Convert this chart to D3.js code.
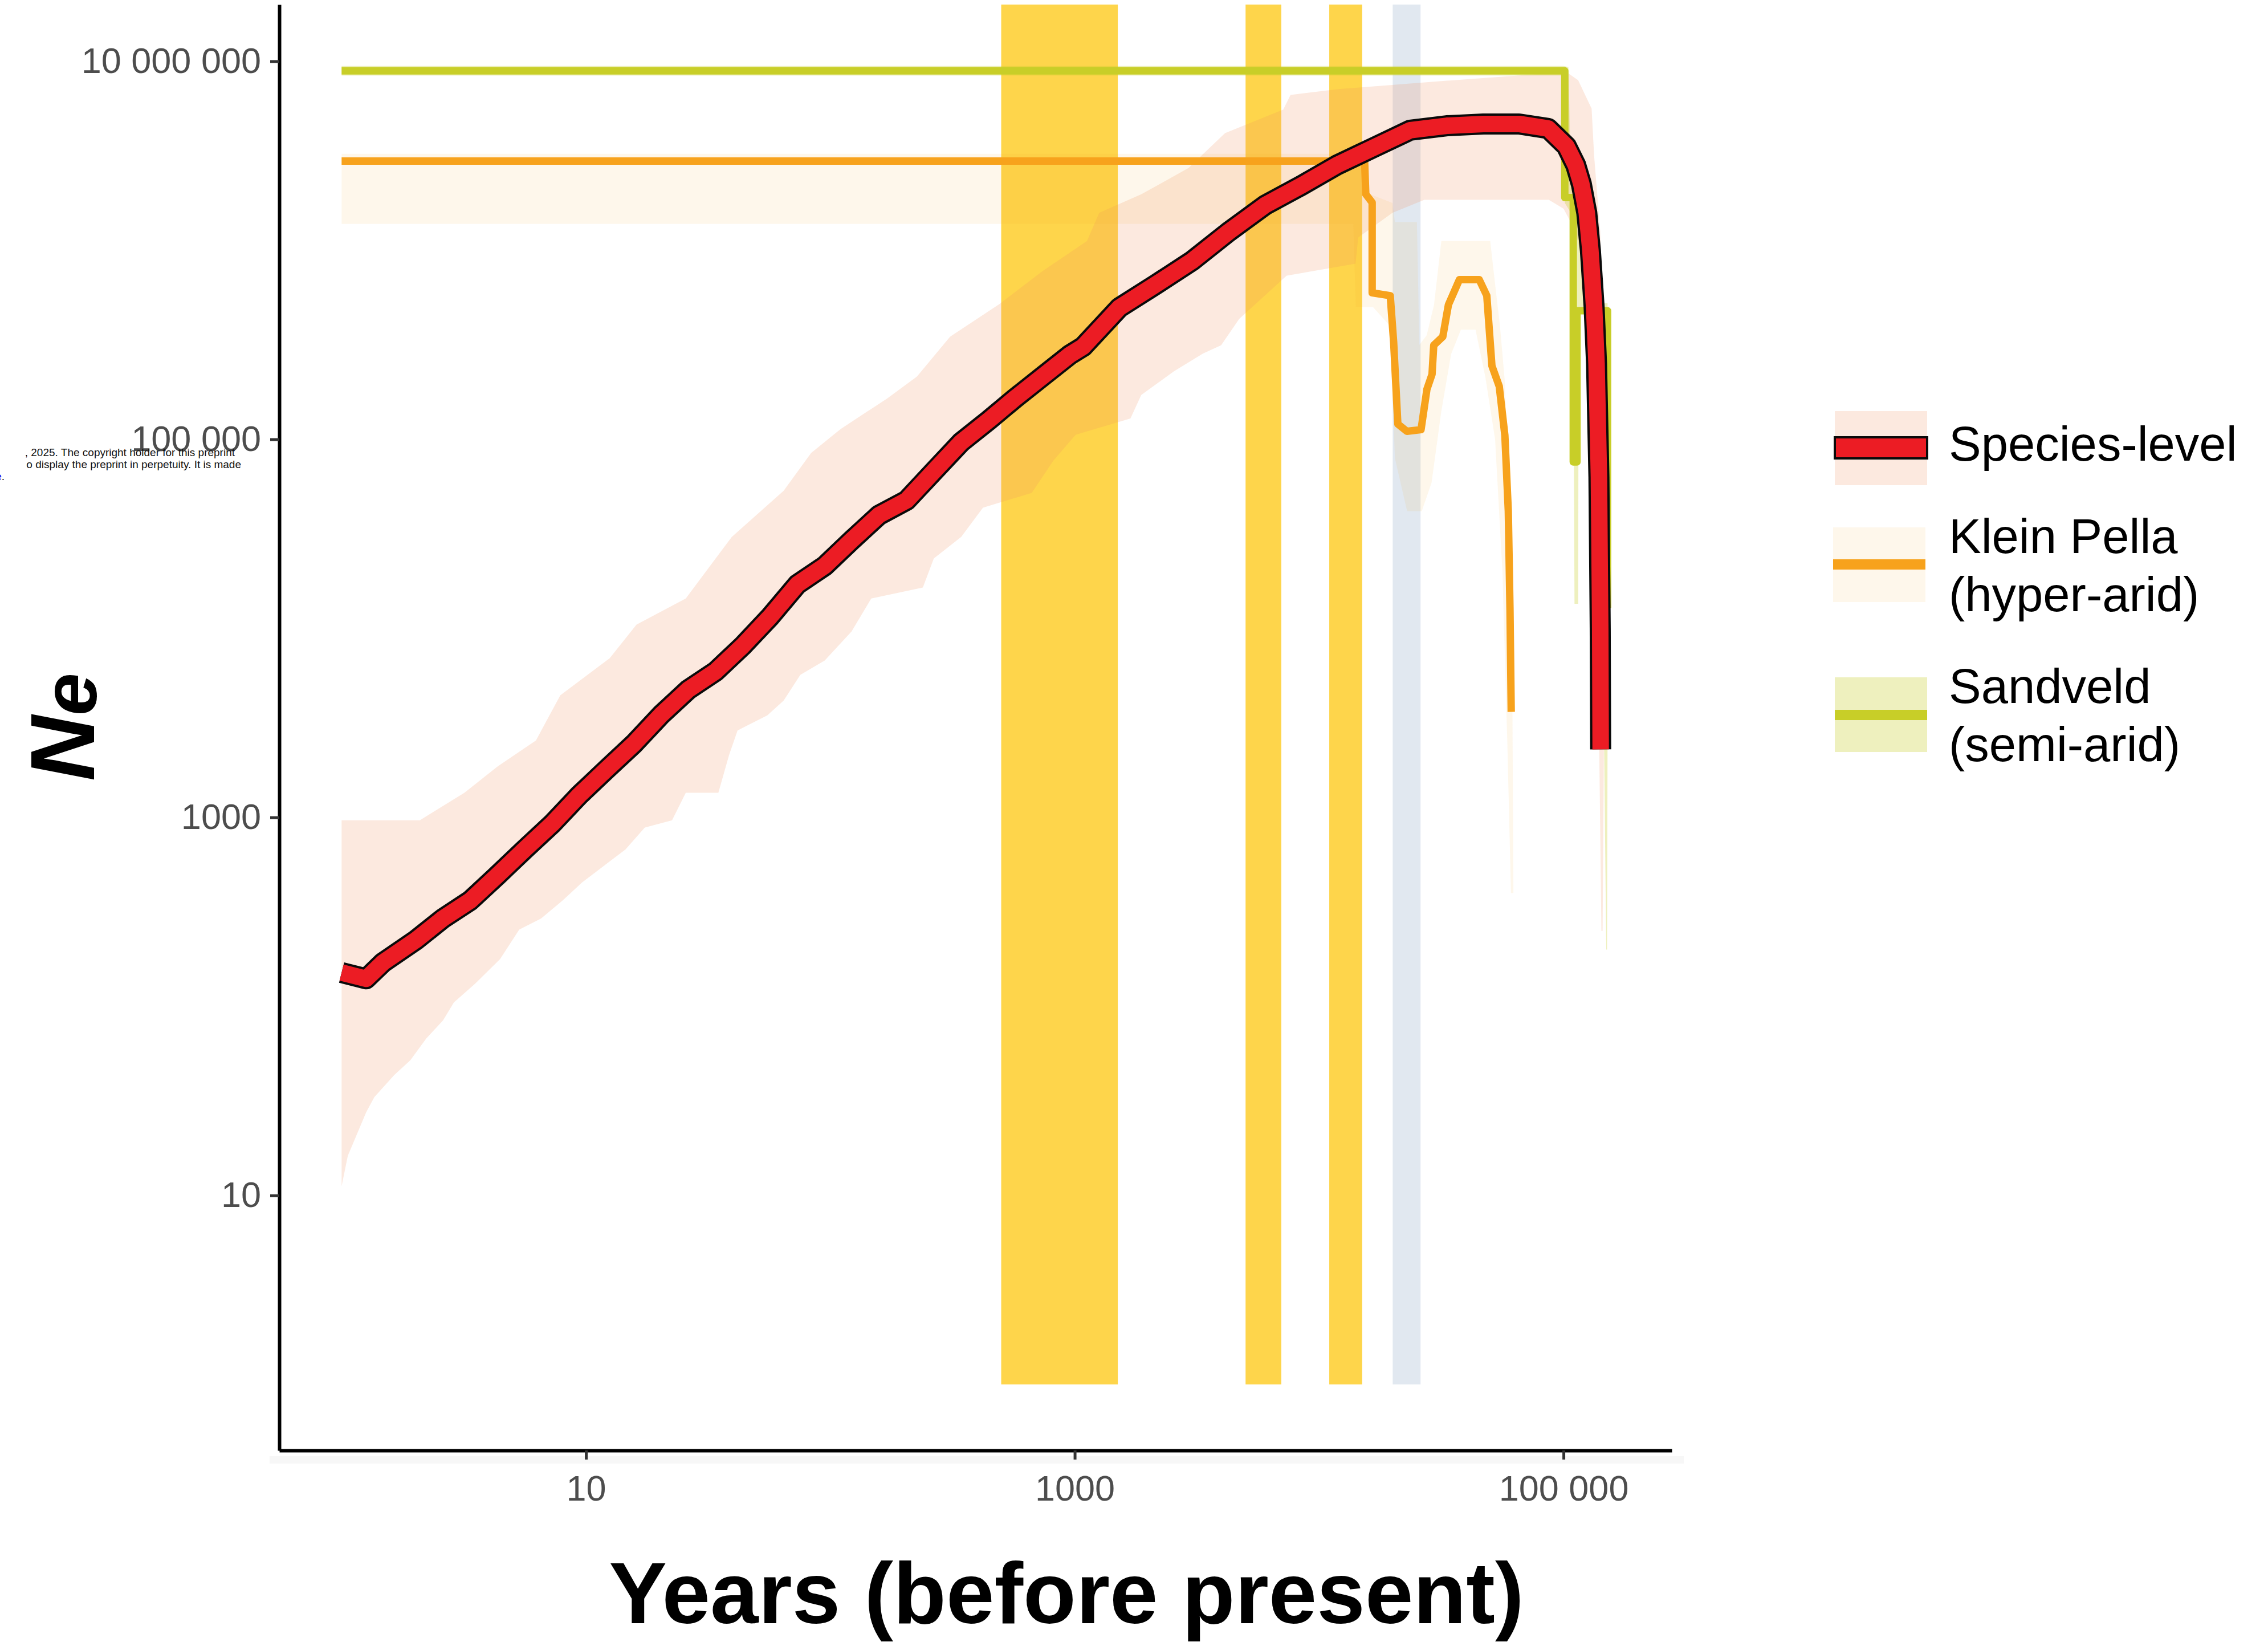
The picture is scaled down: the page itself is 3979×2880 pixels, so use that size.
<!DOCTYPE html>
<html>
<head>
<meta charset="utf-8">
<script src="https://cdn.jsdelivr.net/npm/d3@7"></script>
<style>
  body { margin: 0; background: #fff; }
  svg { display: block; font-family: "Liberation Sans", Arial, Helvetica, sans-serif; }
</style>
</head>
<body>
<svg id="chart" width="3979" height="2880"></svg>
<script>
// ---- data: [years before present, Ne] ----
const speciesLine = [
  [1.0, 151], [1.26, 140], [1.48, 171], [2.01, 224], [2.60, 292], [3.36, 363],
  [4.35, 495], [5.60, 676], [7.24, 920], [9.38, 1310], [12.1, 1790], [15.7, 2450],
  [20.3, 3490], [26.2, 4740], [33.9, 5920], [43.8, 8090], [56.6, 11500], [73.3, 17100],
  [94.8, 21400], [122, 29200], [158, 39700], [205, 47500], [265, 67800], [343, 96600],
  [444, 126000], [570, 165000], [738, 215000], [955, 280000], [1081, 309000],
  [1524, 498000], [2153, 661000], [3020, 879000], [4256, 1.25e6], [5998, 1.73e6],
  [8453, 2.20e6], [11860, 2.83e6], [16750, 3.50e6], [23600, 4.32e6], [33270, 4.56e6],
  [46990, 4.66e6], [65770, 4.66e6], [86500, 4.41e6], [102800, 3.55e6], [112200, 2.82e6],
  [118300, 2.24e6], [124500, 1.58e6], [128800, 1.0e6], [133400, 501000], [136500, 251000],
  [139600, 63100], [141300, 10000], [141900, 2290]
];
const speciesUpper = [
  [1.0, 966], [2.09, 966], [3.18, 1350], [4.35, 1862], [6.24, 2553], [7.85, 4426],
  [12.5, 6950], [16.1, 10470], [25.6, 14390], [39.5, 30480], [64.4, 53460], [83.4, 84720],
  [110, 113200], [171, 164800], [226, 214800], [309, 349100], [491, 518800], [738, 776200],
  [1122, 1.12e6], [1259, 1.58e6], [1871, 1.98e6], [2296, 2.29e6], [2924, 2.73e6],
  [4121, 4.17e6], [7129, 5.55e6], [7638, 6.64e6], [11860, 7.11e6], [33270, 7.89e6],
  [102800, 8.77e6], [114800, 7.94e6], [130300, 5.62e6], [133400, 3.16e6], [141300, 1.26e6],
  [146200, 251000], [147900, 31600], [146200, 2000], [144500, 251]
];
const speciesLower = [
  [1.0, 11.2], [1.06, 16.2], [1.26, 27.5], [1.36, 33.1], [1.64, 43.3], [1.91, 51.9],
  [2.22, 67.6], [2.60, 84.3], [2.88, 105], [3.52, 132], [4.45, 178], [5.33, 255],
  [6.55, 292], [8.02, 363], [9.64, 453], [12.1, 566], [14.5, 676], [17.4, 883],
  [22.5, 966], [25.6, 1349], [34.8, 1349], [38.5, 2138], [41.7, 2884], [55.2, 3467],
  [64.4, 4150], [75.3, 5675], [94.8, 6761], [122, 9616], [147, 14390], [239, 16440],
  [265, 23440], [343, 30480], [421, 43450], [667, 52120], [818, 77270], [1009, 105700],
  [1690, 128800], [1871, 171800], [2541, 228600], [3342, 283800], [3972, 314800],
  [4710, 433500], [7362, 734500], [14090, 849200], [14450, 1.17e6], [19950, 1.58e6],
  [26920, 1.85e6], [87100, 1.85e6], [100000, 1.66e6], [112200, 1.26e6], [125900, 631000],
  [134900, 100000], [139600, 3162], [142900, 251]
];

const kleinLine = [
  [1.0, 2.965e6], [15350, 2.965e6], [15520, 1.98e6], [16480, 1.79e6], [16480, 595700],
  [19540, 575400], [20180, 325800], [20990, 120500], [22860, 110200], [26120, 112500],
  [27610, 184100], [28970, 220800], [29440, 314800], [32060, 349100], [33810, 515200],
  [37500, 699800], [45190, 699800], [48530, 575400], [50930, 244900], [54580, 190500],
  [57540, 105000], [59430, 41690], [60390, 12530], [61090, 3614]
];
const kleinUpper = [
  [1.0, 3.24e6], [15490, 3.24e6], [15850, 2.0e6], [19950, 1.78e6], [20420, 1.41e6],
  [25120, 1.41e6], [25700, 316000], [27540, 355000], [29510, 513000], [31620, 1.12e6],
  [50120, 1.12e6], [52480, 661000], [54950, 398000], [57540, 200000], [60260, 39800],
  [61660, 6310], [62370, 398]
];
const kleinLower = [
  [1.0, 1.38e6], [13800, 1.38e6], [14130, 501000], [16600, 501000], [19500, 398000],
  [20420, 79400], [22910, 41700], [26300, 41700], [28840, 58900], [31620, 141000],
  [34670, 282000], [38020, 380000], [43650, 380000], [47860, 214000], [52480, 100000],
  [56230, 20000], [58880, 2510], [60950, 398]
];

const sandLine = [
  [1.0, 8.9e6], [101200, 8.9e6], [101200, 1.9e6], [109600, 1.9e6], [109600, 75900],
  [113500, 75900], [113500, 479000], [151400, 479000], [151400, 12800]
];
const sandUpper = [
  [1.0, 9.44e6], [100000, 9.44e6], [104700, 9.33e6], [107200, 2.51e6], [114800, 2.0e6],
  [120200, 562000], [131800, 525000], [151400, 525000], [152100, 31600], [150700, 200]
];
const sandLower = [
  [1.0, 8.41e6], [100000, 8.41e6], [101200, 1.78e6], [107200, 1.58e6], [109600, 398000],
  [110900, 13500], [114800, 13500], [115300, 479000], [141300, 479000], [144500, 12600],
  [149600, 200]
];

// climate periods shaded behind the curves
const yellowBands = [[500, 1500], [5000, 7000], [11000, 15000]];
const blueBands = [[20000, 26000]];

const xTicks = [10, 1000, 100000];
const xTickLabels = ["10", "1000", "100 000"];
const yTicks = [10, 1000, 100000, 10000000];
const yTickLabels = ["10", "1000", "100 000", "10 000 000"];

const legendLabels = [["Species-level"], ["Klein Pella", "(hyper-arid)"], ["Sandveld", "(semi-arid)"]];

// ---- colours ----
const red = "#EC1C24", orange = "#F7A21C", green = "#C8CE28";
const speciesFill = "rgb(240,145,95)", speciesAlpha = 0.2;
const kleinAlpha = 0.09, sandAlpha = 0.3;

const svg = d3.select("#chart");

const x = d3.scaleLog().domain([10 ** -0.255, 10 ** 5.443]).range([490, 2933]);
const y = d3.scaleLog().domain([10 ** -0.349, 10 ** 7.30]).range([2544, 8]);

const line = d3.line().x(d => x(d[0])).y(d => y(d[1]));
function ribbon(upper, lower) {
    return line(upper.concat(lower.slice().reverse())) + "Z";
}

// bands
const bandTop = y.domain()[1];
svg.append("g")
    .selectAll("rect")
    .data(yellowBands.map(b => ({ b, c: "#FED54B" })).concat(blueBands.map(b => ({ b, c: "#E1E8F0" }))))
    .enter().append("rect")
    .attr("x", d => x(d.b[0]))
    .attr("width", d => x(d.b[1]) - x(d.b[0]))
    .attr("y", y(bandTop))
    .attr("height", y(1) - y(bandTop))
    .attr("fill", d => d.c);

// ribbons
svg.append("path").attr("d", ribbon(speciesUpper, speciesLower))
    .attr("fill", speciesFill).attr("fill-opacity", speciesAlpha);
svg.append("path").attr("d", ribbon(kleinUpper, kleinLower))
    .attr("fill", orange).attr("fill-opacity", kleinAlpha);
svg.append("path").attr("d", ribbon(sandUpper, sandLower))
    .attr("fill", green).attr("fill-opacity", sandAlpha);

// population lines
svg.append("path").attr("d", line(kleinLine))
    .style("fill", "none").style("stroke", orange).style("stroke-width", 13)
    .style("stroke-linejoin", "round");
svg.append("path").attr("d", line(sandLine))
    .style("fill", "none").style("stroke", green).style("stroke-width", 13)
    .style("stroke-linejoin", "round");

svg.append("path").attr("d", line(speciesLine))
    .style("fill", "none").style("stroke", "#0a0a0a").style("stroke-width", 37)
    .style("stroke-linejoin", "round");
svg.append("path").attr("d", line(speciesLine))
    .style("fill", "none").style("stroke", red).style("stroke-width", 29)
    .style("stroke-linejoin", "round");

// faint strip under the x axis
svg.append("rect").attr("x", 473).attr("y", 2554).attr("width", 2481).attr("height", 13)
    .attr("fill", "#f7f7f7");

// axes
function styleAxis(g, pad) {
    g.attr("font-family", null).attr("font-size", null);
    g.select(".domain").style("stroke", "#000").style("stroke-width", 6);
    g.selectAll(".tick line").style("stroke", "#333").style("stroke-width", 5);
    g.selectAll(".tick text").style("fill", "#4d4d4d").style("font-size", "63px");
}
const gy = svg.append("g").attr("transform", "translate(490,0)")
    .call(d3.axisLeft(y).tickValues(yTicks).tickFormat((d, i) => yTickLabels[i])
        .tickSize(16).tickSizeOuter(0).tickPadding(16));
styleAxis(gy);
const gx = svg.append("g").attr("transform", "translate(0,2544)")
    .call(d3.axisBottom(x).tickValues(xTicks).tickFormat((d, i) => xTickLabels[i])
        .tickSize(16).tickSizeOuter(0).tickPadding(27));
styleAxis(gx);

// axis titles
svg.append("text")
    .attr("x", 1871).attr("y", 2847)
    .attr("text-anchor", "middle")
    .style("font-size", "152px").style("font-weight", "bold")
    .text("Years (before present)");

const ne = svg.append("text")
    .attr("transform", "translate(165,1370) rotate(-90)")
    .style("font-weight", "bold").style("font-style", "italic");
ne.append("tspan").style("font-size", "159px").text("N");
ne.append("tspan").style("font-size", "135px").attr("dy", 4).text("e");

// preprint notice bleeding in from the left
const note = svg.append("g").style("font-size", "19px").style("fill", "#111");
note.append("text").attr("x", 412).attr("y", 800).attr("text-anchor", "end")
    .text(", 2025. The copyright holder for this preprint");
note.append("text").attr("x", 423).attr("y", 821).attr("text-anchor", "end")
    .text("o display the preprint in perpetuity. It is made");
const n3 = note.append("text").attr("x", 8).attr("y", 842).attr("text-anchor", "end");
n3.append("tspan").style("fill", "#0000ee").text("e");
n3.append("tspan").text(".");

// legend
const lg = svg.append("g");
lg.append("rect").attr("x", 3219).attr("y", 721).attr("width", 162).attr("height", 130)
    .attr("fill", speciesFill).attr("fill-opacity", speciesAlpha);
lg.append("rect").attr("x", 3219).attr("y", 767).attr("width", 162).attr("height", 37)
    .attr("fill", red).attr("stroke", "#0a0a0a").attr("stroke-width", 4);
lg.append("rect").attr("x", 3216).attr("y", 925).attr("width", 162).attr("height", 131)
    .attr("fill", orange).attr("fill-opacity", kleinAlpha);
lg.append("rect").attr("x", 3216).attr("y", 981).attr("width", 162).attr("height", 18)
    .attr("fill", orange);
lg.append("rect").attr("x", 3219).attr("y", 1188).attr("width", 162).attr("height", 131)
    .attr("fill", green).attr("fill-opacity", sandAlpha);
lg.append("rect").attr("x", 3219).attr("y", 1245).attr("width", 162).attr("height", 18)
    .attr("fill", green);

const labelY = [[808], [970, 1072], [1233, 1335]];
legendLabels.forEach((lines, i) => {
    lines.forEach((t, j) => {
        lg.append("text").attr("x", 3419).attr("y", labelY[i][j])
            .style("font-size", "85px").style("fill", "#000").text(t);
    });
});
</script>
</body>
</html>
